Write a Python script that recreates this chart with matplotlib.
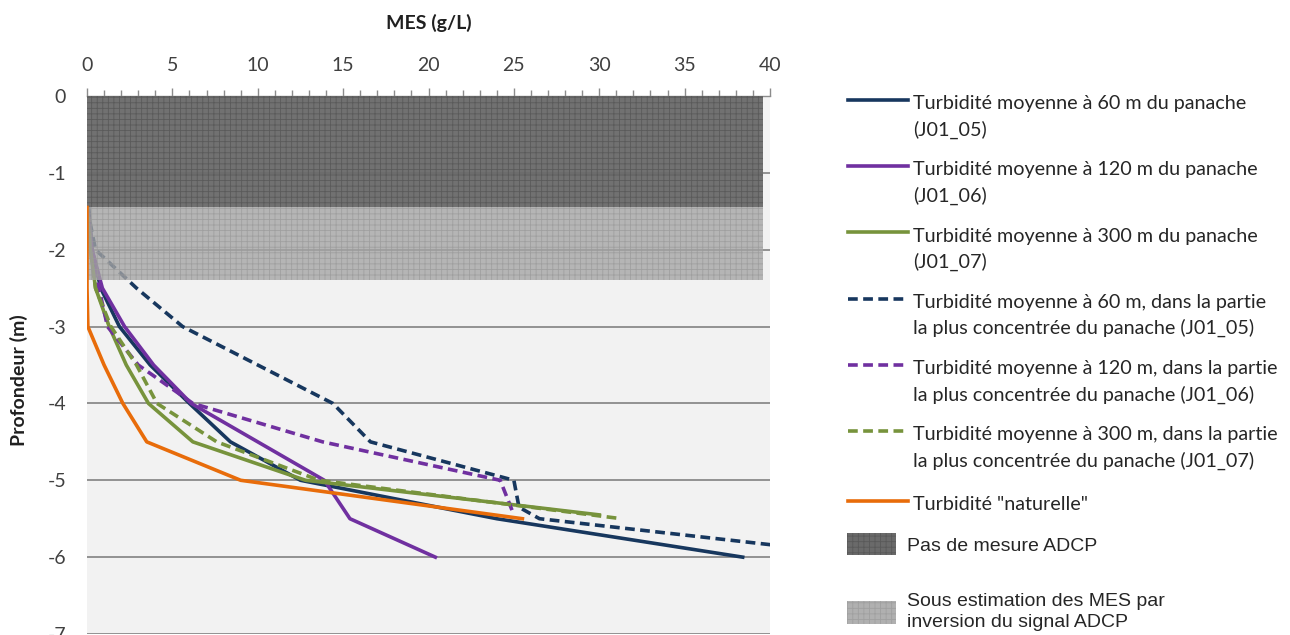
import matplotlib
matplotlib.use("Agg")
import matplotlib.pyplot as plt
from matplotlib.patches import Patch, Rectangle
from matplotlib.legend_handler import HandlerLine2D, HandlerPatch
import numpy as np

# -----------------------------------------------------------------------------
# Data (MES in g/L, depth in m)
# -----------------------------------------------------------------------------
depth_60 = [-1.45, -2.0, -2.5, -3.0, -3.5, -4.0, -4.5, -5.0, -5.5, -6.0]
mes_60 = [0.1, 0.3, 0.8, 1.9, 3.7, 6.0, 8.4, 12.5, 24.0, 38.4]

depth_120 = [-1.45, -2.0, -2.5, -3.0, -3.5, -4.0, -4.5, -5.0, -5.5, -6.0]
mes_120 = [0.05, 0.3, 0.9, 2.2, 3.9, 6.1, 10.0, 13.9, 15.4, 20.4]

depth_300 = [-1.45, -2.0, -2.5, -3.0, -3.5, -4.0, -4.5, -5.0, -5.45]
mes_300 = [0.05, 0.2, 0.5, 1.3, 2.3, 3.6, 6.2, 12.8, 30.0]

depth_60c = [-1.45, -2.0, -2.5, -3.0, -3.5, -4.0, -4.5, -5.0, -5.35, -5.5, -6.0]
mes_60c = [0.0, 0.5, 2.9, 5.6, 10.0, 14.4, 16.6, 25.0, 25.3, 26.5, 46.5]

depth_120c = [-1.45, -2.0, -2.5, -3.0, -3.5, -4.0, -4.5, -5.0, -5.45]
mes_120c = [0.0, 0.3, 0.7, 1.2, 3.0, 6.2, 13.8, 24.2, 25.0]

depth_300c = [-1.45, -2.0, -2.5, -3.0, -3.5, -4.0, -4.5, -5.0, -5.5]
mes_300c = [0.0, 0.2, 0.5, 1.4, 2.9, 4.1, 7.6, 13.6, 31.3]

depth_nat = [-1.45, -2.0, -2.5, -3.0, -3.5, -4.0, -4.5, -5.0, -5.5]
mes_nat = [0.0, 0.0, 0.0, 0.05, 1.0, 2.1, 3.5, 9.0, 25.5]

# shaded zones (depth top, depth bottom) and their x extent
zone_no_measure = (0.0, -1.45)
zone_under_est = (-1.45, -2.4)
zone_xmax = 39.6

line_labels = [
    "Turbidité moyenne à 60 m du panache\n(J01_05)",
    "Turbidité moyenne à 120 m du panache\n(J01_06)",
    "Turbidité moyenne à 300 m du panache\n(J01_07)",
    "Turbidité moyenne à 60 m, dans la partie\nla plus concentrée du panache (J01_05)",
    "Turbidité moyenne à 120 m, dans la partie\nla plus concentrée du panache (J01_06)",
    "Turbidité moyenne à 300 m, dans la partie\nla plus concentrée du panache (J01_07)",
    'Turbidité "naturelle"',
]
zone_labels = [
    "Pas de mesure ADCP",
    "Sous estimation des MES par\ninversion du signal ADCP",
]

navy = '#17375e'
purple = '#7030a0'
green = '#77933c'
orange = '#e86c0a'


# legend handle that sits on the first line of a two-line label
class FirstLineHandler(HandlerLine2D):
    def __init__(self, shift, **kw):
        super().__init__(**kw)
        self.shift = shift

    def create_artists(self, legend, orig_handle, xdescent, ydescent, width,
                       height, fontsize, trans):
        arts = super().create_artists(legend, orig_handle, xdescent, ydescent,
                                      width, height, fontsize, trans)
        for a in arts:
            a.set_ydata(np.asarray(a.get_ydata()) + self.shift * fontsize)
        return arts


def zone_box(legend, orig_handle, xdescent, ydescent, width, height, fontsize):
    h = 16.5
    return Rectangle((-xdescent, -ydescent + (height - h) / 2), width, h)


plt.rcParams['font.family'] = ['Lato', 'DejaVu Sans']
plt.rcParams['hatch.linewidth'] = 0.6
plt.rcParams['axes.unicode_minus'] = False

fig = plt.figure(figsize=(12.9, 6.35), dpi=100)
ax = fig.add_axes([87 / 1290, 1 - 634 / 635, (770 - 87) / 1290, (634 - 96) / 635])
ax.set_facecolor('#f2f2f2')

lw = 2.6
dash = (0, (2.7, 1.5))
series = [
    (mes_60, depth_60, navy, '-'),
    (mes_120, depth_120, purple, '-'),
    (mes_300, depth_300, green, '-'),
    (mes_60c, depth_60c, navy, dash),
    (mes_120c, depth_120c, purple, dash),
    (mes_300c, depth_300c, green, dash),
]
handles = []
for x, y, c, ls in series:
    h, = ax.plot(x, y, color=c, lw=lw, ls=ls, zorder=3)
    handles.append(h)
h, = ax.plot(mes_nat, depth_nat, color=orange, lw=lw, zorder=5)
handles.append(h)

# shaded zones
ax.fill_between([0, zone_xmax], zone_no_measure[0], zone_no_measure[1],
                facecolor='#6a6a6a', edgecolor='#595959', hatch='+++',
                lw=0, alpha=0.95, zorder=4)
ax.fill_between([0, zone_xmax], zone_under_est[0], zone_under_est[1],
                facecolor='#a4a4a4', edgecolor='#9a9a9a', hatch='+++',
                lw=0, alpha=0.78, zorder=4)
zone_handles = [
    Patch(facecolor='#6a6a6a', edgecolor='#595959', hatch='+++', lw=0),
    Patch(facecolor='#b0b0b0', edgecolor='#a0a0a0', hatch='+++', lw=0),
]

ax.set_xlim(0, 40)
ax.set_ylim(-7, 0)
ax.xaxis.tick_top()
ax.xaxis.set_label_position('top')
ax.set_xticks(np.arange(0, 41, 5))
ax.set_xticks(np.arange(0, 41, 1), minor=True)
ax.set_yticks(np.arange(-7, 1, 1))
ax.tick_params(axis='x', which='major', length=6, width=1, color='#8c8c8c',
               labelsize=14, labelcolor='#404040', pad=10)
ax.tick_params(axis='x', which='minor', length=4, width=1, color='#8c8c8c')
ax.tick_params(axis='y', length=0, labelsize=14, labelcolor='#404040', pad=15)
ax.grid(axis='y', color='#8a8a8a', lw=1.3, zorder=1)
ax.set_axisbelow(True)
for s in ['left', 'right', 'bottom']:
    ax.spines[s].set_visible(False)
ax.spines['top'].set_color('#8c8c8c')
ax.spines['top'].set_linewidth(1)

ax.set_xlabel('MES (g/L)', fontsize=14, fontweight='bold', color='#202020', labelpad=20)
ax.set_ylabel('Profondeur (m)', fontsize=14, fontweight='bold', color='#202020')
ax.yaxis.set_label_coords(-0.086, 0.472)

hmap = {hd: FirstLineHandler(0.78) for hd in handles[:6]}
leg = fig.legend(handles, line_labels, loc='upper left',
                 bbox_to_anchor=(848 / 1290, 1 - 95 / 635),
                 frameon=False, borderpad=0, borderaxespad=0,
                 fontsize=14.2, handlelength=3.05, handletextpad=0.25,
                 handleheight=1.3, labelspacing=1.15, handler_map=hmap)
for t in leg.get_texts():
    t.set_linespacing(1.55)
    t.set_color('#262626')

leg2 = fig.legend(zone_handles, zone_labels, loc='upper left',
                  bbox_to_anchor=(847 / 1290, 1 - 534 / 635),
                  frameon=False, borderpad=0, borderaxespad=0,
                  prop={'family': ['Liberation Sans', 'DejaVu Sans'], 'size': 14},
                  handlelength=2.5, handletextpad=0.6, handleheight=1.2,
                  labelspacing=2.0,
                  handler_map={Patch: HandlerPatch(patch_func=zone_box)})
for t in leg2.get_texts():
    t.set_linespacing(1.3)
    t.set_color('#262626')

fig.savefig('out.png', dpi=100)
